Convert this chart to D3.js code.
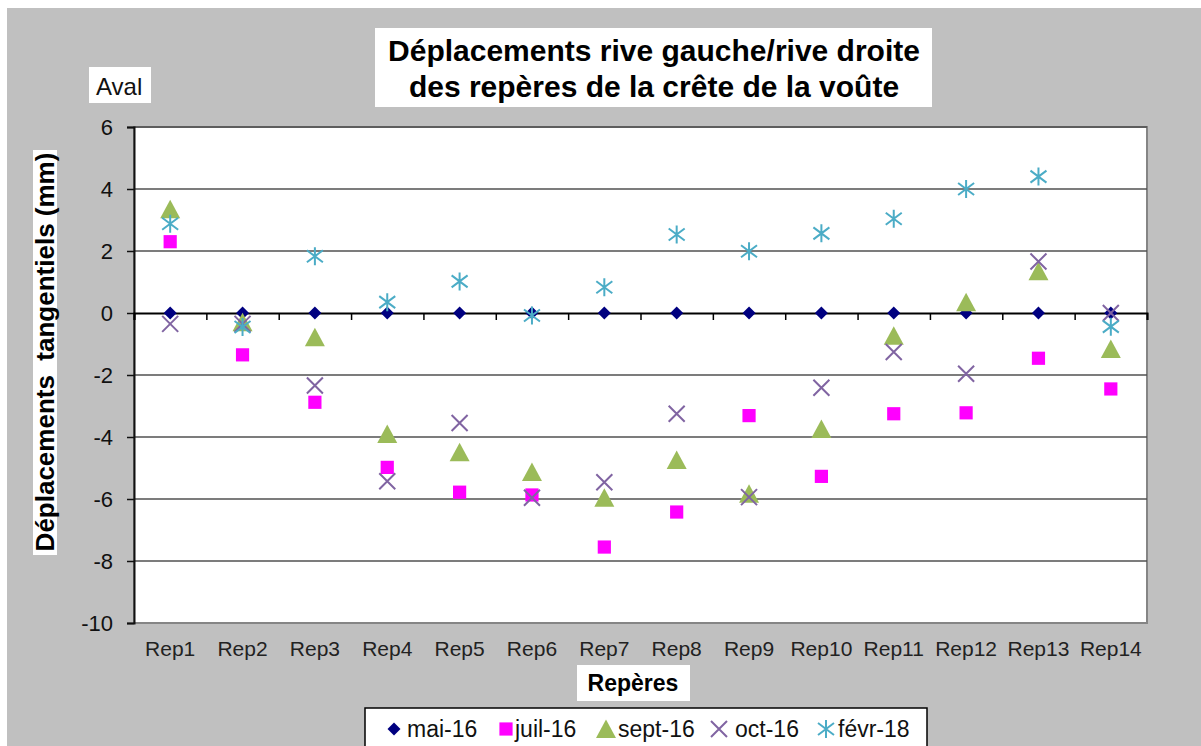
<!DOCTYPE html>
<html>
<head>
<meta charset="utf-8">
<script src="https://cdn.jsdelivr.net/npm/d3@7"></script>
<style>
  body { margin: 0; background: #fff; }
  text { font-family: "Liberation Sans", Arial, sans-serif; }
</style>
</head>
<body>
<svg id="chart" width="1201" height="746"></svg>
<script>
const reperes = ['Rep1', 'Rep2', 'Rep3', 'Rep4', 'Rep5', 'Rep6', 'Rep7',
  'Rep8', 'Rep9', 'Rep10', 'Rep11', 'Rep12', 'Rep13', 'Rep14'];

const mai16  = [0, 0, 0, 0, 0, 0, 0, 0, 0, 0, 0, 0, 0, 0];
const juil16 = [2.3, -1.35, -2.88, -4.98, -5.78, -5.87, -7.55, -6.42, -3.31, -5.27, -3.25, -3.22, -1.46, -2.45];
const sept16 = [3.35, -0.3, -0.78, -3.9, -4.49, -5.13, -5.96, -4.74, -5.83, -3.74, -0.73, 0.35, 1.35, -1.16];
const oct16  = [-0.35, -0.35, -2.34, -5.43, -3.55, -5.96, -5.46, -3.25, -5.94, -2.41, -1.26, -1.96, 1.66, 0];
const fevr18 = [2.88, -0.45, 1.83, 0.35, 1.02, -0.08, 0.83, 2.53, 1.99, 2.57, 3.04, 4.0, 4.4, -0.44];

const seriesNames = ['mai-16', 'juil-16', 'sept-16', 'oct-16', 'févr-18'];
const yTicks = [6, 4, 2, 0, -2, -4, -6, -8, -10];

const svg = d3.select('#chart');

// marker shapes, Excel style
const diamond = { draw(c, s) { const r = 6.5; c.moveTo(0, -r); c.lineTo(r, 0); c.lineTo(0, r); c.lineTo(-r, 0); c.closePath(); } };
const square = { draw(c, s) { const r = 6.6; c.rect(-r, -r, 2 * r, 2 * r); } };
const triangle = { draw(c, s) { c.moveTo(0, -9.5); c.lineTo(10, 9); c.lineTo(-10, 9); c.closePath(); } };
const cross = { draw(c, s) { const r = 8; c.moveTo(-r, -r); c.lineTo(r, r); c.moveTo(-r, r); c.lineTo(r, -r); } };
const star = { draw(c, s) { const r = 9; c.moveTo(0, -r); c.lineTo(0, r); c.moveTo(-8, -6); c.lineTo(8, 6); c.moveTo(-8, 6); c.lineTo(8, -6); } };

const series = [
  { name: seriesNames[0], values: mai16, type: diamond, color: '#000080', filled: true },
  { name: seriesNames[1], values: juil16, type: square, color: '#ff00ff', filled: true },
  { name: seriesNames[2], values: sept16, type: triangle, color: '#9bbb59', filled: true },
  { name: seriesNames[3], values: oct16, type: cross, color: '#8064a2', filled: false },
  { name: seriesNames[4], values: fevr18, type: star, color: '#4bacc6', filled: false }
];

// grey background
svg.append('rect')
  .attr('x', 7).attr('y', 8)
  .attr('width', 1201).attr('height', 746)
  .attr('fill', '#c0c0c0');

const plotL = 134, plotR = 1147, plotT = 127, plotB = 623;

const x = d3.scaleBand().domain(reperes).range([plotL, plotR]);
const xEdge = d3.scaleLinear().domain([0, reperes.length]).range([plotL, plotR]);
const y = d3.scaleLinear().domain([-10, 6]).range([plotB, plotT]);

// plot area
svg.append('rect')
  .attr('x', plotL).attr('y', plotT)
  .attr('width', plotR - plotL).attr('height', plotB - plotT)
  .attr('fill', '#fff')
  .attr('stroke', '#858585')
  .attr('stroke-width', 2);

// gridlines
svg.append('g')
  .selectAll('line')
  .data(yTicks.filter(d => d !== 0 && d !== -10))
  .join('line')
  .attr('x1', plotL).attr('x2', plotR)
  .attr('y1', d => y(d)).attr('y2', d => y(d))
  .attr('stroke', '#505050')
  .attr('stroke-width', 1.5);

// y axis
const yAxis = svg.append('g')
  .attr('transform', `translate(${plotL},0)`)
  .call(d3.axisLeft(y).tickValues(yTicks).tickSize(7).tickPadding(14).tickFormat(d => String(d)));
yAxis.select('.domain').attr('stroke', '#111').attr('stroke-width', 2);
yAxis.selectAll('.tick line').attr('stroke', '#111').attr('stroke-width', 1.5);
yAxis.selectAll('.tick text')
  .style('font-family', '"Liberation Sans", Arial, sans-serif')
  .style('font-size', '22px')
  .attr('fill', '#111');

// zero line with category ticks
const zAxis = svg.append('g')
  .attr('transform', `translate(0,${y(0)})`)
  .call(d3.axisBottom(xEdge).ticks(reperes.length).tickSize(7).tickFormat(''));
zAxis.select('.domain').attr('stroke', '#000').attr('stroke-width', 2);
zAxis.selectAll('.tick line').attr('stroke', '#000').attr('stroke-width', 1.5);

// category labels below the plot
const xAxis = svg.append('g')
  .attr('transform', `translate(0,${plotB})`)
  .call(d3.axisBottom(x).tickSize(0).tickPadding(18));
xAxis.select('.domain').remove();
xAxis.selectAll('.tick text')
  .style('font-family', '"Liberation Sans", Arial, sans-serif')
  .style('font-size', '21px')
  .attr('fill', '#222');

// markers
const sym = d3.symbol();
series.forEach(s => {
  svg.append('g')
    .selectAll('path')
    .data(s.values)
    .join('path')
    .attr('transform', (d, i) => `translate(${x(reperes[i]) + x.bandwidth() / 2},${y(d)})`)
    .attr('d', sym.type(s.type)())
    .attr('fill', s.filled ? s.color : 'none')
    .attr('stroke', s.filled ? 'none' : s.color)
    .attr('stroke-width', 2);
});

// title
svg.append('rect').attr('x', 375).attr('y', 28).attr('width', 557).attr('height', 79).attr('fill', '#fff');
svg.append('text')
  .attr('x', 654).attr('y', 61)
  .attr('text-anchor', 'middle')
  .style('font-size', '30px').style('font-weight', 'bold')
  .text('Déplacements rive gauche/rive droite');
svg.append('text')
  .attr('x', 654).attr('y', 97)
  .attr('text-anchor', 'middle')
  .style('font-size', '30px').style('font-weight', 'bold')
  .text('des repères de la crête de la voûte');

// Aval
svg.append('rect').attr('x', 89).attr('y', 67).attr('width', 62).attr('height', 36).attr('fill', '#fff');
svg.append('text')
  .attr('x', 96).attr('y', 95)
  .style('font-size', '24px')
  .attr('fill', '#111')
  .text('Aval');

// y axis title
svg.append('rect').attr('x', 33).attr('y', 150).attr('width', 24).attr('height', 405).attr('fill', '#fff');
svg.append('text')
  .attr('transform', 'translate(54,352) rotate(-90)')
  .attr('text-anchor', 'middle')
  .style('font-size', '26px').style('font-weight', 'bold')
  .style('white-space', 'pre')
  .text('Déplacements\u00a0 tangentiels (mm)');

// x axis title
svg.append('rect').attr('x', 577).attr('y', 665).attr('width', 113).attr('height', 36).attr('fill', '#fff');
svg.append('text')
  .attr('x', 633).attr('y', 691)
  .attr('text-anchor', 'middle')
  .style('font-size', '23px').style('font-weight', 'bold')
  .text('Repères');

// legend
svg.append('rect')
  .attr('x', 365).attr('y', 708)
  .attr('width', 562).attr('height', 50)
  .attr('fill', '#fff').attr('stroke', '#000').attr('stroke-width', 1.5);
const legendSym = [394, 506, 606, 719, 826];
const legendText = [407, 515, 618, 735, 838];
series.forEach((s, i) => {
  svg.append('path')
    .attr('transform', `translate(${legendSym[i]},729)`)
    .attr('d', sym.type(s.type)())
    .attr('fill', s.filled ? s.color : 'none')
    .attr('stroke', s.filled ? 'none' : s.color)
    .attr('stroke-width', 2);
  svg.append('text')
    .attr('x', legendText[i]).attr('y', 737)
    .style('font-size', '23px')
    .attr('fill', '#111')
    .text(s.name);
});
</script>
</body>
</html>
